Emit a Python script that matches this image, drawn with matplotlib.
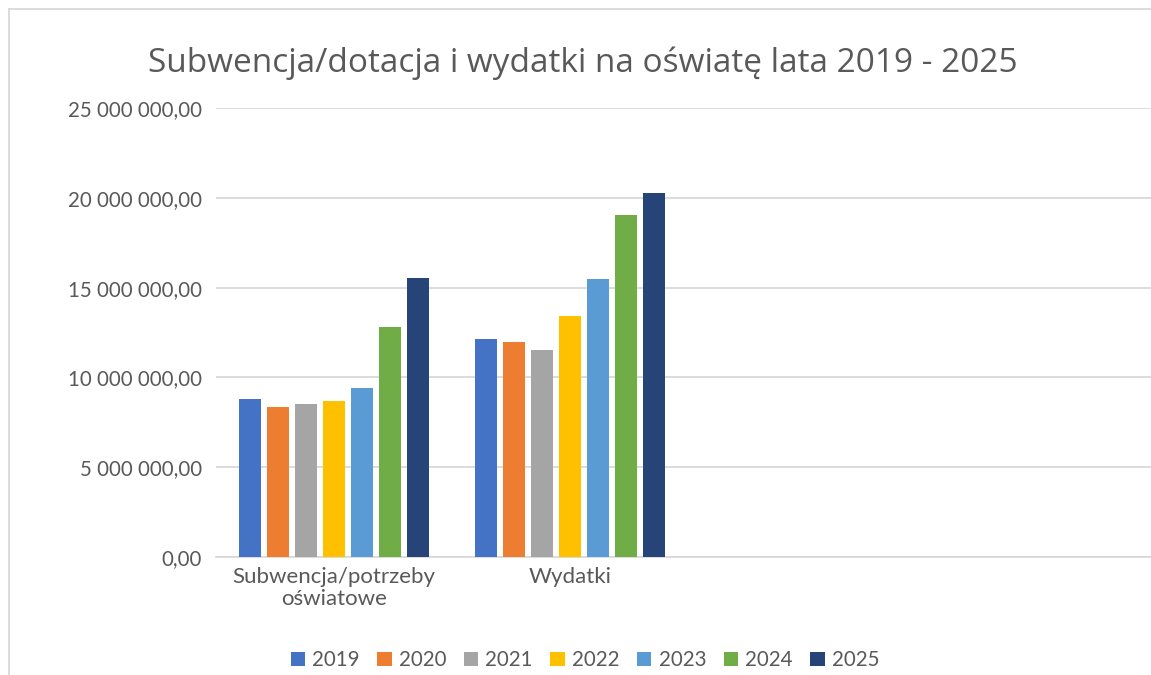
import matplotlib.pyplot as plt
import numpy as np
from matplotlib.ticker import FuncFormatter

# data (PLN)
categories = ["Subwencja/potrzeby\noświatowe", "Wydatki", "", ""]
years = ["2019", "2020", "2021", "2022", "2023", "2024", "2025"]
subwencja = [8.81e6, 8.37e6, 8.54e6, 8.70e6, 9.43e6, 12.82e6, 15.55e6]
wydatki = [12.15e6, 11.99e6, 11.54e6, 13.44e6, 15.50e6, 19.06e6, 20.28e6]
colors = ["#4472C4", "#ED7D31", "#A5A5A5", "#FFC000", "#5B9BD5", "#70AD47", "#264478"]

plt.rcParams['font.family'] = ['Lato', 'DejaVu Sans']
txt = '#595959'
grid = '#d9d9d9'

fig = plt.figure(figsize=(11.51, 6.75), dpi=100)
ax = fig.add_axes([216 / 1151, 118 / 675, 944 / 1151, 449 / 675])

x = np.arange(2)
step = 0.1186
width = 0.093
for i, yr in enumerate(years):
    vals = [subwencja[i], wydatki[i]]
    ax.bar(x + (i - 3) * step, vals, width, color=colors[i], label=yr, zorder=3)

ax.set_xlim(-0.5, len(categories) - 0.5)
ax.set_ylim(0, 25e6)
ax.set_yticks(np.arange(0, 25e6 + 1, 5e6))


def fmt(v, pos):
    s = '{:,.2f}'.format(v).replace(',', ' ').replace('.', ',')
    return s


ax.yaxis.set_major_formatter(FuncFormatter(fmt))
ax.set_xticks(np.arange(len(categories)))
ax.set_xticklabels(categories, linespacing=1.15)
ax.tick_params(axis='both', length=0, labelsize=14.8, colors=txt)
ax.tick_params(axis='x', labelsize=16, pad=7)
ax.tick_params(axis='y', pad=10)
ax.grid(axis='y', color=grid, linewidth=1.3, zorder=0)
for s in ['top', 'right', 'left']:
    ax.spines[s].set_visible(False)
ax.spines['bottom'].set_color(grid)
ax.spines['bottom'].set_linewidth(1.3)

fig.text(583 / 1151, 1 - 63 / 675, 'Subwencja/dotacja i wydatki na oświatę lata 2019 - 2025',
         ha='center', va='center', fontsize=24, color=txt, family=['Open Sans', 'DejaVu Sans'])

# chart border (left and top visible)
fig.add_artist(plt.Line2D([9 / 1151, 9 / 1151], [0, 1 - 9 / 675], transform=fig.transFigure,
                          color=grid, linewidth=1.3))
fig.add_artist(plt.Line2D([9 / 1151, 1], [1 - 9 / 675, 1 - 9 / 675], transform=fig.transFigure,
                          color=grid, linewidth=1.3))

leg = fig.legend(loc='center', bbox_to_anchor=(585 / 1151, 1 - 660 / 675), ncol=7,
                 frameon=False, fontsize=14.8, handlelength=0.7, handleheight=0.7,
                 handletextpad=0.35, columnspacing=0.85)
for t in leg.get_texts():
    t.set_color(txt)

fig.savefig('out.png', dpi=100)
